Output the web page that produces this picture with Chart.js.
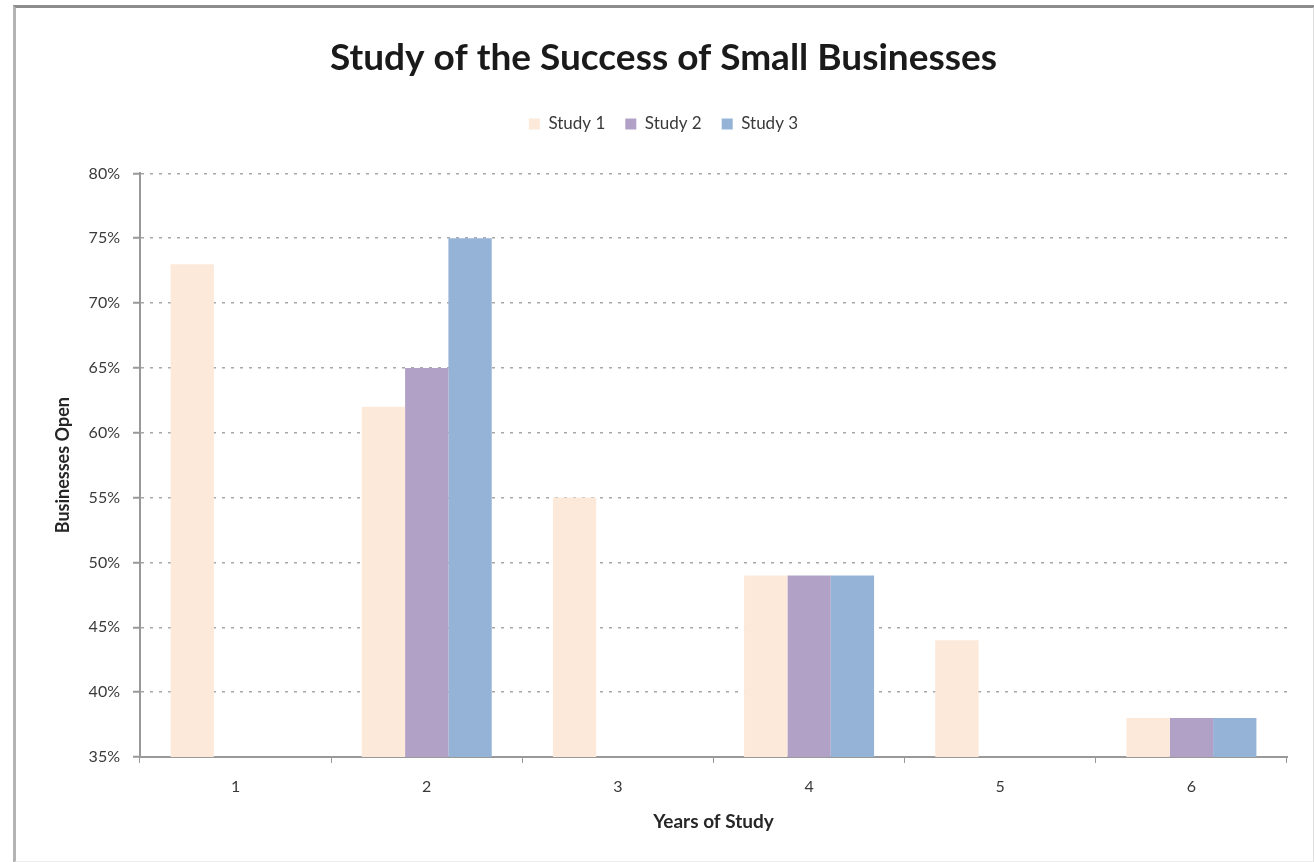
<!DOCTYPE html>
<html>
<head>
<meta charset="utf-8">
<title>Study of the Success of Small Businesses</title>
<script src="https://cdn.jsdelivr.net/npm/chart.js@4.4.0/dist/chart.umd.min.js"></script>
<style>
  html, body { margin: 0; padding: 0; background: #fff; }
  #wrap { position: relative; width: 1314px; height: 862px; overflow: hidden; }
  #chart { position: absolute; left: 0; top: 0; }
  /* grey frame round the picture, like the pasted chart object */
  #frame {
    position: absolute; left: 13px; top: 5px; width: 1297px; height: 853px;
    border-left: 3px solid #b4b4b4; border-top: 3px solid #8c8c8c;
    border-right: 2px solid #dcdcdc; border-bottom: 2px solid #ececec;
    pointer-events: none;
  }
</style>
</head>
<body>
<div id="wrap">
  <canvas id="chart" width="1314" height="862"></canvas>
  <div id="frame"></div>
</div>
<script>
// Chart data
const years = ['1', '2', '3', '4', '5', '6'];
const study1 = [73, 62, 55, 49, 44, 38];
const study2 = [null, 65, null, 49, null, 38];
const study3 = [null, 75, null, 49, null, 38];
const seriesNames = ['Study 1', 'Study 2', 'Study 3'];
const seriesColors = ['#FCE9DA', '#B2A1C7', '#95B3D7'];
const yMin = 35;
const yMax = 80;
const yStep = 5;

// Push the plot area down below the legend
const legendGap = {
  id: 'legendGap',
  beforeInit(chart) {
    const fit = chart.legend.fit;
    chart.legend.fit = function () {
      fit.bind(chart.legend)();
      this.height += 31;
    };
  }
};

document.addEventListener('DOMContentLoaded', function () {
  var ctx = document.getElementById('chart');

  new Chart(ctx, {
    type: 'bar',
    data: {
      labels: years,
      datasets: [
        { label: seriesNames[0], data: study1, backgroundColor: seriesColors[0] },
        { label: seriesNames[1], data: study2, backgroundColor: seriesColors[1] },
        { label: seriesNames[2], data: study3, backgroundColor: seriesColors[2] }
      ]
    },
    options: {
      responsive: false,
      animation: false,
      categoryPercentage: 0.68,
      barPercentage: 1.0,
      layout: { padding: { left: 40, right: 27, top: 0, bottom: 0 } },
      plugins: {
        title: {
          display: true,
          text: 'Study of the Success of Small Businesses',
          color: '#1a1a1a',
          font: { family: 'Lato', size: 37, weight: 'bold' },
          padding: { top: 36, bottom: 15 }
        },
        legend: {
          display: true,
          labels: {
            boxWidth: 11,
            boxHeight: 11,
            padding: 20,
            color: '#3a3a3a',
            font: { family: 'Lato', size: 17 }
          }
        },
        tooltip: { enabled: false }
      },
      scales: {
        x: {
          grid: {
            drawOnChartArea: false,
            tickLength: 6,
            color: '#999'
          },
          border: { color: '#999', width: 2 },
          ticks: {
            color: '#3a3a3a',
            padding: 14,
            font: { family: 'Lato', size: 16 }
          },
          title: {
            display: true,
            text: 'Years of Study',
            color: '#262626',
            font: { family: 'Lato', size: 19, weight: 'bold' },
            padding: { top: 0, bottom: 29 }
          },
          afterFit: function (scale) { scale.height = 105; }
        },
        y: {
          min: yMin,
          max: yMax,
          grid: {
            color: '#a8a8a8',
            lineWidth: 1.5,
            tickLength: 7,
            tickColor: '#999',
            tickWidth: 2,
            tickBorderDash: []
          },
          border: { color: '#999', width: 2, dash: [3, 6] },
          ticks: {
            stepSize: yStep,
            color: '#3a3a3a',
            padding: 13,
            font: { family: 'Lato', size: 16 },
            callback: function (value) { return value + '%'; }
          },
          title: {
            display: true,
            text: 'Businesses Open',
            color: '#262626',
            font: { family: 'Lato', size: 18, weight: 'bold' },
            padding: { top: 12, bottom: 0 }
          },
          afterFit: function (scale) { scale.width = 100; }
        }
      }
    },
    plugins: [legendGap]
  });
});
</script>
</body>
</html>
